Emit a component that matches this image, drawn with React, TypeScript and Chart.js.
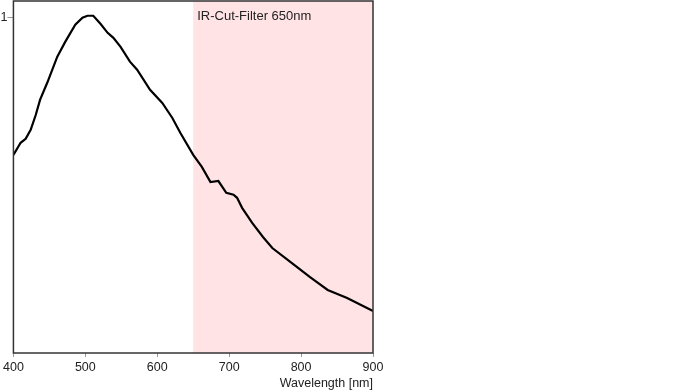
import React, { useEffect, useRef } from "react";
import { Chart, registerables } from "chart.js";

Chart.register(...registerables);

const wavelengths = [400, 410, 417, 424, 431, 437, 447, 461, 472, 486, 496, 503, 511, 521, 531, 539, 549, 562, 572, 590, 607, 621, 632, 650, 662, 674, 685, 696, 706, 711, 718, 732, 747, 760, 785, 812, 837, 864, 900];
const response = [0.591, 0.627, 0.639, 0.666, 0.71, 0.755, 0.806, 0.884, 0.928, 0.979, 1.0, 1.006, 1.006, 0.982, 0.955, 0.94, 0.913, 0.869, 0.845, 0.785, 0.746, 0.701, 0.657, 0.591, 0.555, 0.51, 0.513, 0.478, 0.472, 0.463, 0.433, 0.388, 0.346, 0.313, 0.272, 0.227, 0.188, 0.164, 0.125];
const yTicks = [1];
const filterStart = 650;
const filterLabel = "IR-Cut-Filter 650nm";
const xTitle = "Wavelength [nm]";

const FONT = "'Liberation Sans', Arial, sans-serif";

export default function App() {
  const ref = useRef<HTMLCanvasElement | null>(null);
  useEffect(() => {
    if (!ref.current) return;
    const bandPlugin = {
      id: "band",
      beforeDatasetsDraw(chart: any) {
        const { ctx, chartArea, scales } = chart;
        const x0 = scales.x.getPixelForValue(filterStart);
        ctx.save();
        ctx.fillStyle = "#ffe3e5";
        ctx.fillRect(x0, chartArea.top, chartArea.right - x0, chartArea.bottom - chartArea.top);
        ctx.fillStyle = "#222";
        ctx.font = `13px ${FONT}`;
        ctx.textBaseline = "middle";
        ctx.textAlign = "left";
        ctx.fillText(filterLabel, x0 + 4, chartArea.top + 15);
        ctx.restore();
      },
      afterDraw(chart: any) {
        const { ctx, chartArea } = chart;
        ctx.save();
        ctx.strokeStyle = "#333";
        ctx.lineWidth = 1.5;
        ctx.strokeRect(chartArea.left, chartArea.top, chartArea.right - chartArea.left, chartArea.bottom - chartArea.top);
        ctx.restore();
      },
    };
    const chart = new Chart(ref.current, {
      type: "line",
      data: {
        datasets: [
          {
            data: wavelengths.map((w, i) => ({ x: w, y: response[i] })),
            borderColor: "#000",
            borderWidth: 2.2,
            pointRadius: 0,
            tension: 0,
            fill: false,
          },
        ],
      },
      options: {
        animation: false,
        responsive: true,
        maintainAspectRatio: false,
        layout: { padding: { top: 1, right: 327, left: 0, bottom: 0 } },
        plugins: { legend: { display: false }, tooltip: { enabled: false } },
        scales: {
          x: {
            type: "linear",
            min: 400,
            max: 900,
            afterFit(s: any) {
              s.height = 39;
            },
            ticks: { stepSize: 100, color: "#222", font: { family: FONT, size: 12.5 }, padding: 3, maxRotation: 0 },
            grid: { drawOnChartArea: false, color: "#999", tickLength: 4 },
            border: { display: false },
            title: { display: true, text: xTitle, align: "end", color: "#222", font: { family: FONT, size: 12.5 }, padding: { top: 0, bottom: 1 } },
          },
          y: {
            min: 0,
            max: 1.05,
            afterFit(s: any) {
              s.width = 13;
              s.paddingTop = 0;
              s.paddingBottom = 0;
            },
            afterBuildTicks(s: any) {
              s.ticks = yTicks.map((v) => ({ value: v }));
            },
            ticks: { color: "#222", font: { family: FONT, size: 12.5 }, padding: 0 },
            grid: { drawOnChartArea: false, color: "#999", tickLength: 6 },
            border: { display: false },
          },
        },
      },
      plugins: [bandPlugin],
    });
    return () => chart.destroy();
  }, []);
  return (
    <div style={{ position: "absolute", left: 0, top: 0, width: 700, height: 392 }}>
      <canvas ref={ref} />
    </div>
  );
}
